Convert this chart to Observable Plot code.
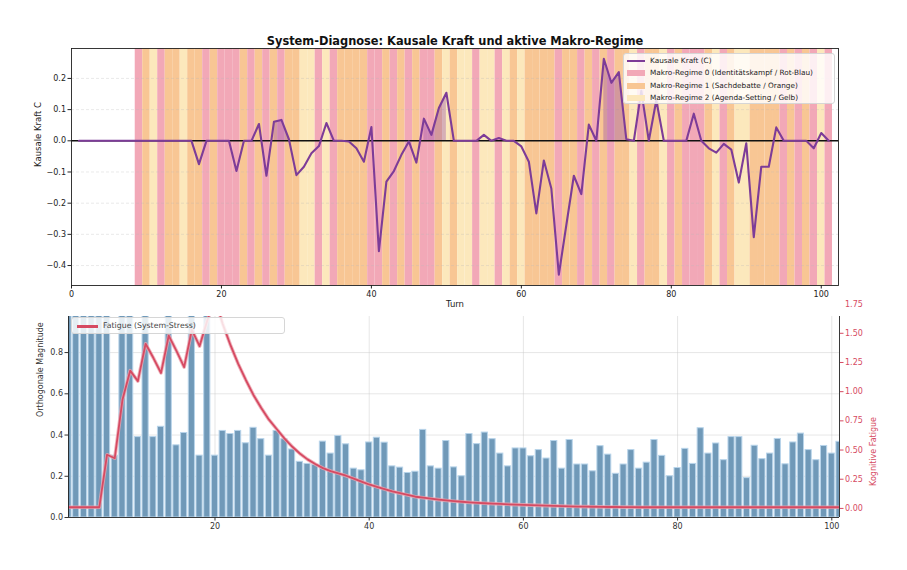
<!DOCTYPE html>
<html><head><meta charset="utf-8">
<script src="https://cdn.jsdelivr.net/npm/d3@7"></script>
<script src="https://cdn.jsdelivr.net/npm/@observablehq/plot@0.6"></script>
<style>
html,body{margin:0;padding:0;background:#fff;}
#wrap{position:relative;width:907px;height:570px;overflow:hidden;font-family:"DejaVu Sans",sans-serif;background:#fff;}
#wrap svg{position:absolute;left:0;overflow:visible;}
.legend{position:absolute;background:rgba(255,255,255,0.82);border:1px solid #d6d6d6;border-radius:3px;color:#222;box-sizing:border-box;}
.row{position:absolute;left:0;height:12px;white-space:nowrap;}
.sw{position:absolute;}
.lt{position:absolute;line-height:12px;}
</style></head><body><div id="wrap"></div>
<script>
// ---------- data ----------
const turns = d3.range(1, 102); // turn 1..101
const kausaleKraft = [
  0,0,0,0,0,0,0,0,0,0,
  0,0,0,0,0,0,-0.075,0,0,0,
  0,-0.097,0,0,0.054,-0.112,0.061,0.067,0.005,-0.11,
  -0.083,-0.04,-0.017,0.057,0,0,-0.002,-0.024,-0.067,0.044,
  -0.354,-0.131,-0.097,-0.045,-0.002,-0.07,0.071,0.019,0.105,0.154,
  0,0,0,0,0.019,0,0.009,0,0,-0.018,
  -0.067,-0.233,-0.063,-0.153,-0.429,-0.27,-0.112,-0.171,0.052,0,
  0.263,0.186,0.22,0.005,0,0.16,0,0.13,0,0,
  0,0,0.087,0,-0.024,-0.038,-0.01,-0.028,-0.134,-0.008,
  -0.309,-0.083,-0.083,0.043,0,0,0,0,-0.024,0.025,
  0
];
const shadedTurns = [27,28,29,47,48,49,50,71,72,73,74];
const regimeTurns = d3.range(9, 102); // turns 9..101
const regimes = [
  0,1,2,0,1,1,2,1,1,0,
  1,0,0,0,1,0,1,0,1,0,
  1,1,2,2,0,2,0,1,1,1,
  1,0,0,1,0,1,0,1,0,0,
  1,2,1,2,2,0,2,2,0,2,
  1,2,1,1,1,1,0,1,1,0,
  1,0,1,0,1,1,2,0,1,1,
  2,0,1,0,0,0,1,2,0,1,
  2,2,1,1,1,1,0,1,0,1,
  0,2,0
];
const regimeNames = [
  "Makro-Regime 0 (Identitätskampf / Rot-Blau)",
  "Makro-Regime 1 (Sachdebatte / Orange)",
  "Makro-Regime 2 (Agenda-Setting / Gelb)"
];
const magnitude = [
  1.0,1.0,1.0,1.0,1.0,1.0,0.30,1.0,1.0,0.39,
  1.0,0.39,0.44,1.0,0.35,0.41,1.0,0.30,1.0,0.30,
  0.42,0.405,0.42,0.36,0.435,0.38,0.30,0.42,0.38,0.33,
  0.27,0.26,0.255,0.368,0.31,0.395,0.355,0.237,0.229,0.364,
  0.387,0.363,0.248,0.242,0.216,0.222,0.425,0.248,0.237,0.371,
  0.243,0.20,0.405,0.356,0.412,0.38,0.31,0.248,0.335,0.335,
  0.297,0.327,0.286,0.371,0.237,0.376,0.257,0.257,0.224,0.346,
  0.305,0.212,0.257,0.327,0.237,0.266,0.376,0.299,0.20,0.24,
  0.333,0.26,0.433,0.31,0.359,0.278,0.39,0.39,0.191,0.348,
  0.283,0.31,0.381,0.258,0.364,0.407,0.327,0.278,0.347,0.31,
  0.367
];
const fatigue = [
  0.01,0.01,0.01,0.01,0.01,0.46,0.43,0.93,1.18,1.09,
  1.41,1.29,1.16,1.48,1.35,1.21,1.53,1.39,1.61,1.80,
  1.58,1.40,1.24,1.10,0.97,0.86,0.76,0.68,0.60,0.53,
  0.47,0.42,0.38,0.345,0.32,0.30,0.28,0.255,0.23,0.205,
  0.185,0.165,0.145,0.13,0.115,0.10,0.092,0.083,0.075,0.068,
  0.062,0.057,0.052,0.048,0.044,0.041,0.038,0.035,0.032,0.030,
  0.028,0.026,0.024,0.022,0.020,0.018,0.016,0.015,0.014,0.013,
  0.012,0.012,0.011,0.011,0.010,0.010,0.010,0.010,0.010,0.010,
  0.010,0.010,0.010,0.010,0.010,0.010,0.010,0.010,0.010,0.010,
  0.010,0.010,0.010,0.010,0.010,0.010,0.010,0.010,0.010,0.010,
  0.010
];
const xTicksTop = [0,20,40,60,80,100];
const yTicksTop = [0.2,0.1,0,-0.1,-0.2,-0.3,-0.4];
const xTicksBottom = [20,40,60,80,100];
const yTicksBottom = [0,0.2,0.4,0.6,0.8];
const fTicks = [0,0.25,0.5,0.75,1.0,1.25,1.5];
const fLabels = ["0.00","0.25","0.50","0.75","1.00","1.25","1.50"];
const fTickTop = [1.75];
const fLabelTop = ["1.75"];

// ---------- styles ----------
const regimeColors = ["#f2a8b7","#f8c694","#fce8bc"];
const purple = "#7d3c98";
const red = "#d64a62";
const font = '"DejaVu Sans", sans-serif';

const kData = turns.map((t,i)=>({turn:t, c:kausaleKraft[i], shade:shadedTurns.includes(t)}));
const rData = regimeTurns.map((t,i)=>({turn:t, regime:regimes[i]}));
const bData = turns.map((t,i)=>({turn:t, m:magnitude[i], f:fatigue[i]}));

// twin-axis alignment: fatigue -> left axis units
const fatOffset = 0.0441, fatSlope = 0.5663;
const toLeft = f => fatOffset + f*fatSlope;
const fTicksLeft = fTicks.map(toLeft);
const fTickTopLeft = fTickTop.map(toLeft);

const wrap = document.getElementById("wrap");

const topPlot = Plot.plot({
  width: 907, height: 312,
  marginLeft: 71, marginRight: 69, marginTop: 48, marginBottom: 27,
  x: {domain:[0,102.3]},
  y: {domain:[-0.464,0.296]},
  color: {type:"ordinal", domain:[0,1,2], range:regimeColors},
  style: {fontFamily:font, fontSize:"8px", color:"#222", background:"transparent"},
  marks: [
    Plot.rect(rData, {x1:d=>d.turn-0.5, x2:d=>d.turn+0.5, fill:"regime"}),
    Plot.gridY(yTicksTop, {stroke:"#b8b8b8", strokeOpacity:0.3, strokeDasharray:"3,2"}),
    Plot.areaY(kData, {x:"turn", y1:0, y2:d=>d.shade ? d.c : NaN, fill:"#8e44ad", fillOpacity:0.35}),
    Plot.ruleY([0], {stroke:"#111", strokeWidth:1.4}),
    Plot.line(kData, {x:"turn", y:"c", stroke:purple, strokeWidth:2.1}),
    Plot.frame({stroke:"#222", strokeWidth:0.9}),
    Plot.axisX({ticks:xTicksTop, tickSize:3.5, tickPadding:2, label:null}),
    Plot.axisY({ticks:yTicksTop, tickFormat:d3.format(".1f"), tickSize:3.5, tickPadding:2, label:null}),
    Plot.text(["System-Diagnose: Kausale Kraft und aktive Makro-Regime"], {frameAnchor:"top", lineAnchor:"bottom", dy:-4, fontWeight:"bold", fontSize:11.4, fill:"#111"}),
    Plot.text(["Kausale Kraft C"], {frameAnchor:"left", dx:-33, rotate:-90, fontSize:8.5}),
    Plot.text(["Turn"], {frameAnchor:"bottom", dy:21, fontSize:8.5})
  ]
});
topPlot.style.top = "0px";
wrap.appendChild(topPlot);

const bottomPlot = Plot.plot({
  width: 907, height: 274,
  marginLeft: 68, marginRight: 68, marginTop: 20, marginBottom: 53,
  x: {domain:[1,101]},
  y: {domain:[0,0.975]},
  style: {fontFamily:font, fontSize:"8px", color:"#333", background:"transparent"},
  marks: [
    Plot.gridX(xTicksBottom, {stroke:"#c8c8c8", strokeOpacity:0.45}),
    Plot.gridY([0.2,0.4,0.6,0.8], {stroke:"#c8c8c8", strokeOpacity:0.45}),
    Plot.rectY(bData, {x1:d=>d.turn-0.4, x2:d=>d.turn+0.4, y:"m", fill:"#7099b8", stroke:"#b8d4ea", strokeWidth:1, clip:true}),
    Plot.line(bData, {x:"turn", y:d=>toLeft(d.f), stroke:"#eba2ae", strokeWidth:3.6, strokeOpacity:0.8, clip:true}),
    Plot.line(bData, {x:"turn", y:d=>toLeft(d.f), stroke:red, strokeWidth:1.8, clip:true}),
    Plot.ruleX([1,101], {stroke:"#222", strokeWidth:0.9}),
    Plot.ruleY([0], {stroke:"#222", strokeWidth:0.9}),
    Plot.axisX({ticks:xTicksBottom, tickSize:3.5, tickPadding:2, label:null}),
    Plot.axisY({ticks:yTicksBottom, tickFormat:d3.format(".1f"), tickSize:3.5, tickPadding:2, label:null}),
    Plot.axisY(fTicksLeft, {anchor:"right", tickFormat:v=>fLabels[fTicksLeft.indexOf(v)], tickSize:3.5, tickPadding:2, color:red, label:null}),
    Plot.axisY(fTickTopLeft, {anchor:"right", tickFormat:v=>fLabelTop[fTickTopLeft.indexOf(v)], tickSize:0, tickPadding:5.5, color:red, label:null}),
    Plot.text(["Orthogonale Magnitude"], {frameAnchor:"left", dx:-28, rotate:-90, fontSize:8}),
    Plot.text(["Kognitive Fatigue"], {frameAnchor:"right", dx:34, rotate:-90, fontSize:8, fill:red})
  ]
});
bottomPlot.style.top = "296px";
wrap.appendChild(bottomPlot);

// ---------- legends ----------
const lg = document.createElement("div");
lg.className = "legend";
lg.style.cssText = "left:623px;top:53px;width:212px;height:51px;font-size:7.3px;";
const rows = [{type:"line", color:purple, label:"Kausale Kraft (C)"}]
  .concat(regimeNames.map((n,i)=>({type:"patch", color:regimeColors[i], label:n})));
rows.forEach((r,i)=>{
  const row = document.createElement("div");
  row.className = "row";
  row.style.top = (1 + i*12.3) + "px";
  const sw = document.createElement("div");
  sw.className = "sw";
  if (r.type === "line") {
    sw.style.cssText = `left:3px;top:5px;width:18px;height:2px;background:${r.color};`;
  } else {
    sw.style.cssText = `left:3px;top:3px;width:18px;height:6px;background:${r.color};`;
  }
  const tx = document.createElement("div");
  tx.className = "lt";
  tx.style.left = "26px";
  tx.textContent = r.label;
  row.appendChild(sw); row.appendChild(tx);
  lg.appendChild(row);
});
wrap.appendChild(lg);

const lg2 = document.createElement("div");
lg2.className = "legend";
lg2.style.cssText = "left:71px;top:317px;width:214px;height:17px;font-size:7.8px;color:#444;";
lg2.innerHTML = `<div class="sw" style="left:5px;top:7px;width:21px;height:2.5px;background:${red};"></div><div class="lt" style="left:31px;top:2px;">Fatigue (System-Stress)</div>`;
wrap.appendChild(lg2);
</script></body></html>
